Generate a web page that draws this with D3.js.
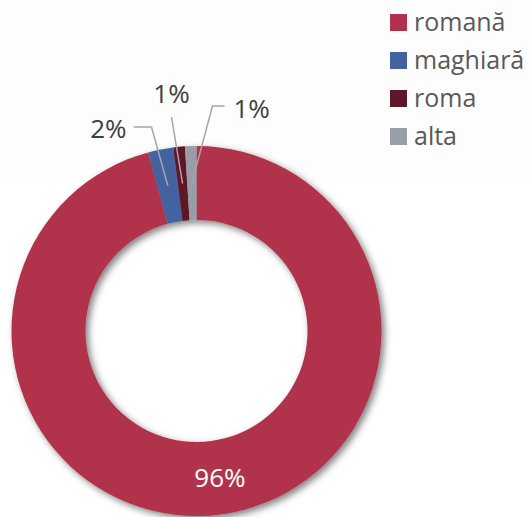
<!DOCTYPE html>
<html>
<head>
<meta charset="utf-8">
<script src="https://cdn.jsdelivr.net/npm/d3@7"></script>
<style>
  body { margin: 0; background: #fff; }
  svg { display: block; }
</style>
</head>
<body>
<script>
// data
var categories = ["romană", "maghiară", "roma", "alta"];
var values = [95.8, 2.2, 1.0, 1.0];
var labels = ["96%", "2%", "1%", "1%"];
var colors = ["#b1324c", "#4263a0", "#5e1726", "#979ea7"];

var width = 530, height = 517;
var cx = 196.5, cy = 331;
var outerR = 185, innerR = 111;

var svg = d3.select("body").append("svg")
  .attr("width", width)
  .attr("height", height);

// very faint tint on the upper band, like the original
svg.append("rect").attr("x", 0).attr("y", 0).attr("width", width).attr("height", 182).attr("fill", "#fdfdfd");

var defs = svg.append("defs");
var f = defs.append("filter").attr("id", "shadow")
  .attr("x", "-20%").attr("y", "-20%").attr("width", "140%").attr("height", "140%");
f.append("feDropShadow").attr("dx", 3).attr("dy", 3).attr("stdDeviation", 3.5)
  .attr("flood-color", "#000").attr("flood-opacity", 0.5);

var pie = d3.pie().sort(null).value(function(d) { return d; });
var arcs = pie(values);
var arc = d3.arc().innerRadius(innerR).outerRadius(outerR);
var midArc = d3.arc().innerRadius((innerR + outerR) / 2).outerRadius((innerR + outerR) / 2);

var g = svg.append("g").attr("transform", "translate(" + cx + "," + cy + ")");

g.append("g").attr("filter", "url(#shadow)")
  .selectAll("path")
  .data(arcs)
  .enter().append("path")
    .attr("d", arc)
    .attr("fill", function(d, i) { return colors[i]; });

// label layout: where each outer label sits, relative to the centre
var labelLayout = [
  null,
  { elbow: [-45, -204], end: [-63, -204], tx: -70, ty: -193, anchor: "end" },
  { elbow: null, end: [-25, -214], tx: -25, ty: -228, anchor: "middle" },
  { elbow: [16, -225], end: [28, -225], tx: 37, ty: -213, anchor: "start" }
];

// inside label
var c0 = midArc.centroid(arcs[0]);
g.append("text")
  .attr("x", c0[0] + 4)
  .attr("y", c0[1])
  .attr("dy", "0.35em")
  .attr("text-anchor", "middle")
  .attr("fill", "#fff")
  .style("font-family", "'Open Sans', sans-serif")
  .style("font-size", "26px")
  .text(labels[0]);

arcs.forEach(function(a, i) {
  var lay = labelLayout[i];
  if (!lay) return;
  var c = midArc.centroid(a);
  var pts = [c];
  if (lay.elbow) pts.push(lay.elbow);
  pts.push(lay.end);
  g.append("polyline")
    .attr("points", pts.map(function(p) { return p.join(","); }).join(" "))
    .attr("fill", "none")
    .attr("stroke", "#a6a6a6")
    .attr("stroke-width", 1.5);
  g.append("text")
    .attr("x", lay.tx)
    .attr("y", lay.ty)
    .attr("text-anchor", lay.anchor)
    .attr("fill", "#404040")
    .style("font-family", "'Open Sans', sans-serif")
    .style("font-size", "26px")
    .text(labels[i]);
});

// legend
var legend = svg.append("g").attr("transform", "translate(390,14)");
var item = legend.selectAll("g")
  .data(categories)
  .enter().append("g")
    .attr("transform", function(d, i) { return "translate(0," + (i * 38) + ")"; });
item.append("rect")
  .attr("width", 17).attr("height", 17)
  .attr("fill", function(d, i) { return colors[i]; });
item.append("text")
  .attr("x", 24)
  .attr("y", 17)
  .attr("fill", "#595959")
  .style("font-family", "'Open Sans', sans-serif")
  .style("font-size", "25px")
  .text(function(d) { return d; });
</script>
</body>
</html>
